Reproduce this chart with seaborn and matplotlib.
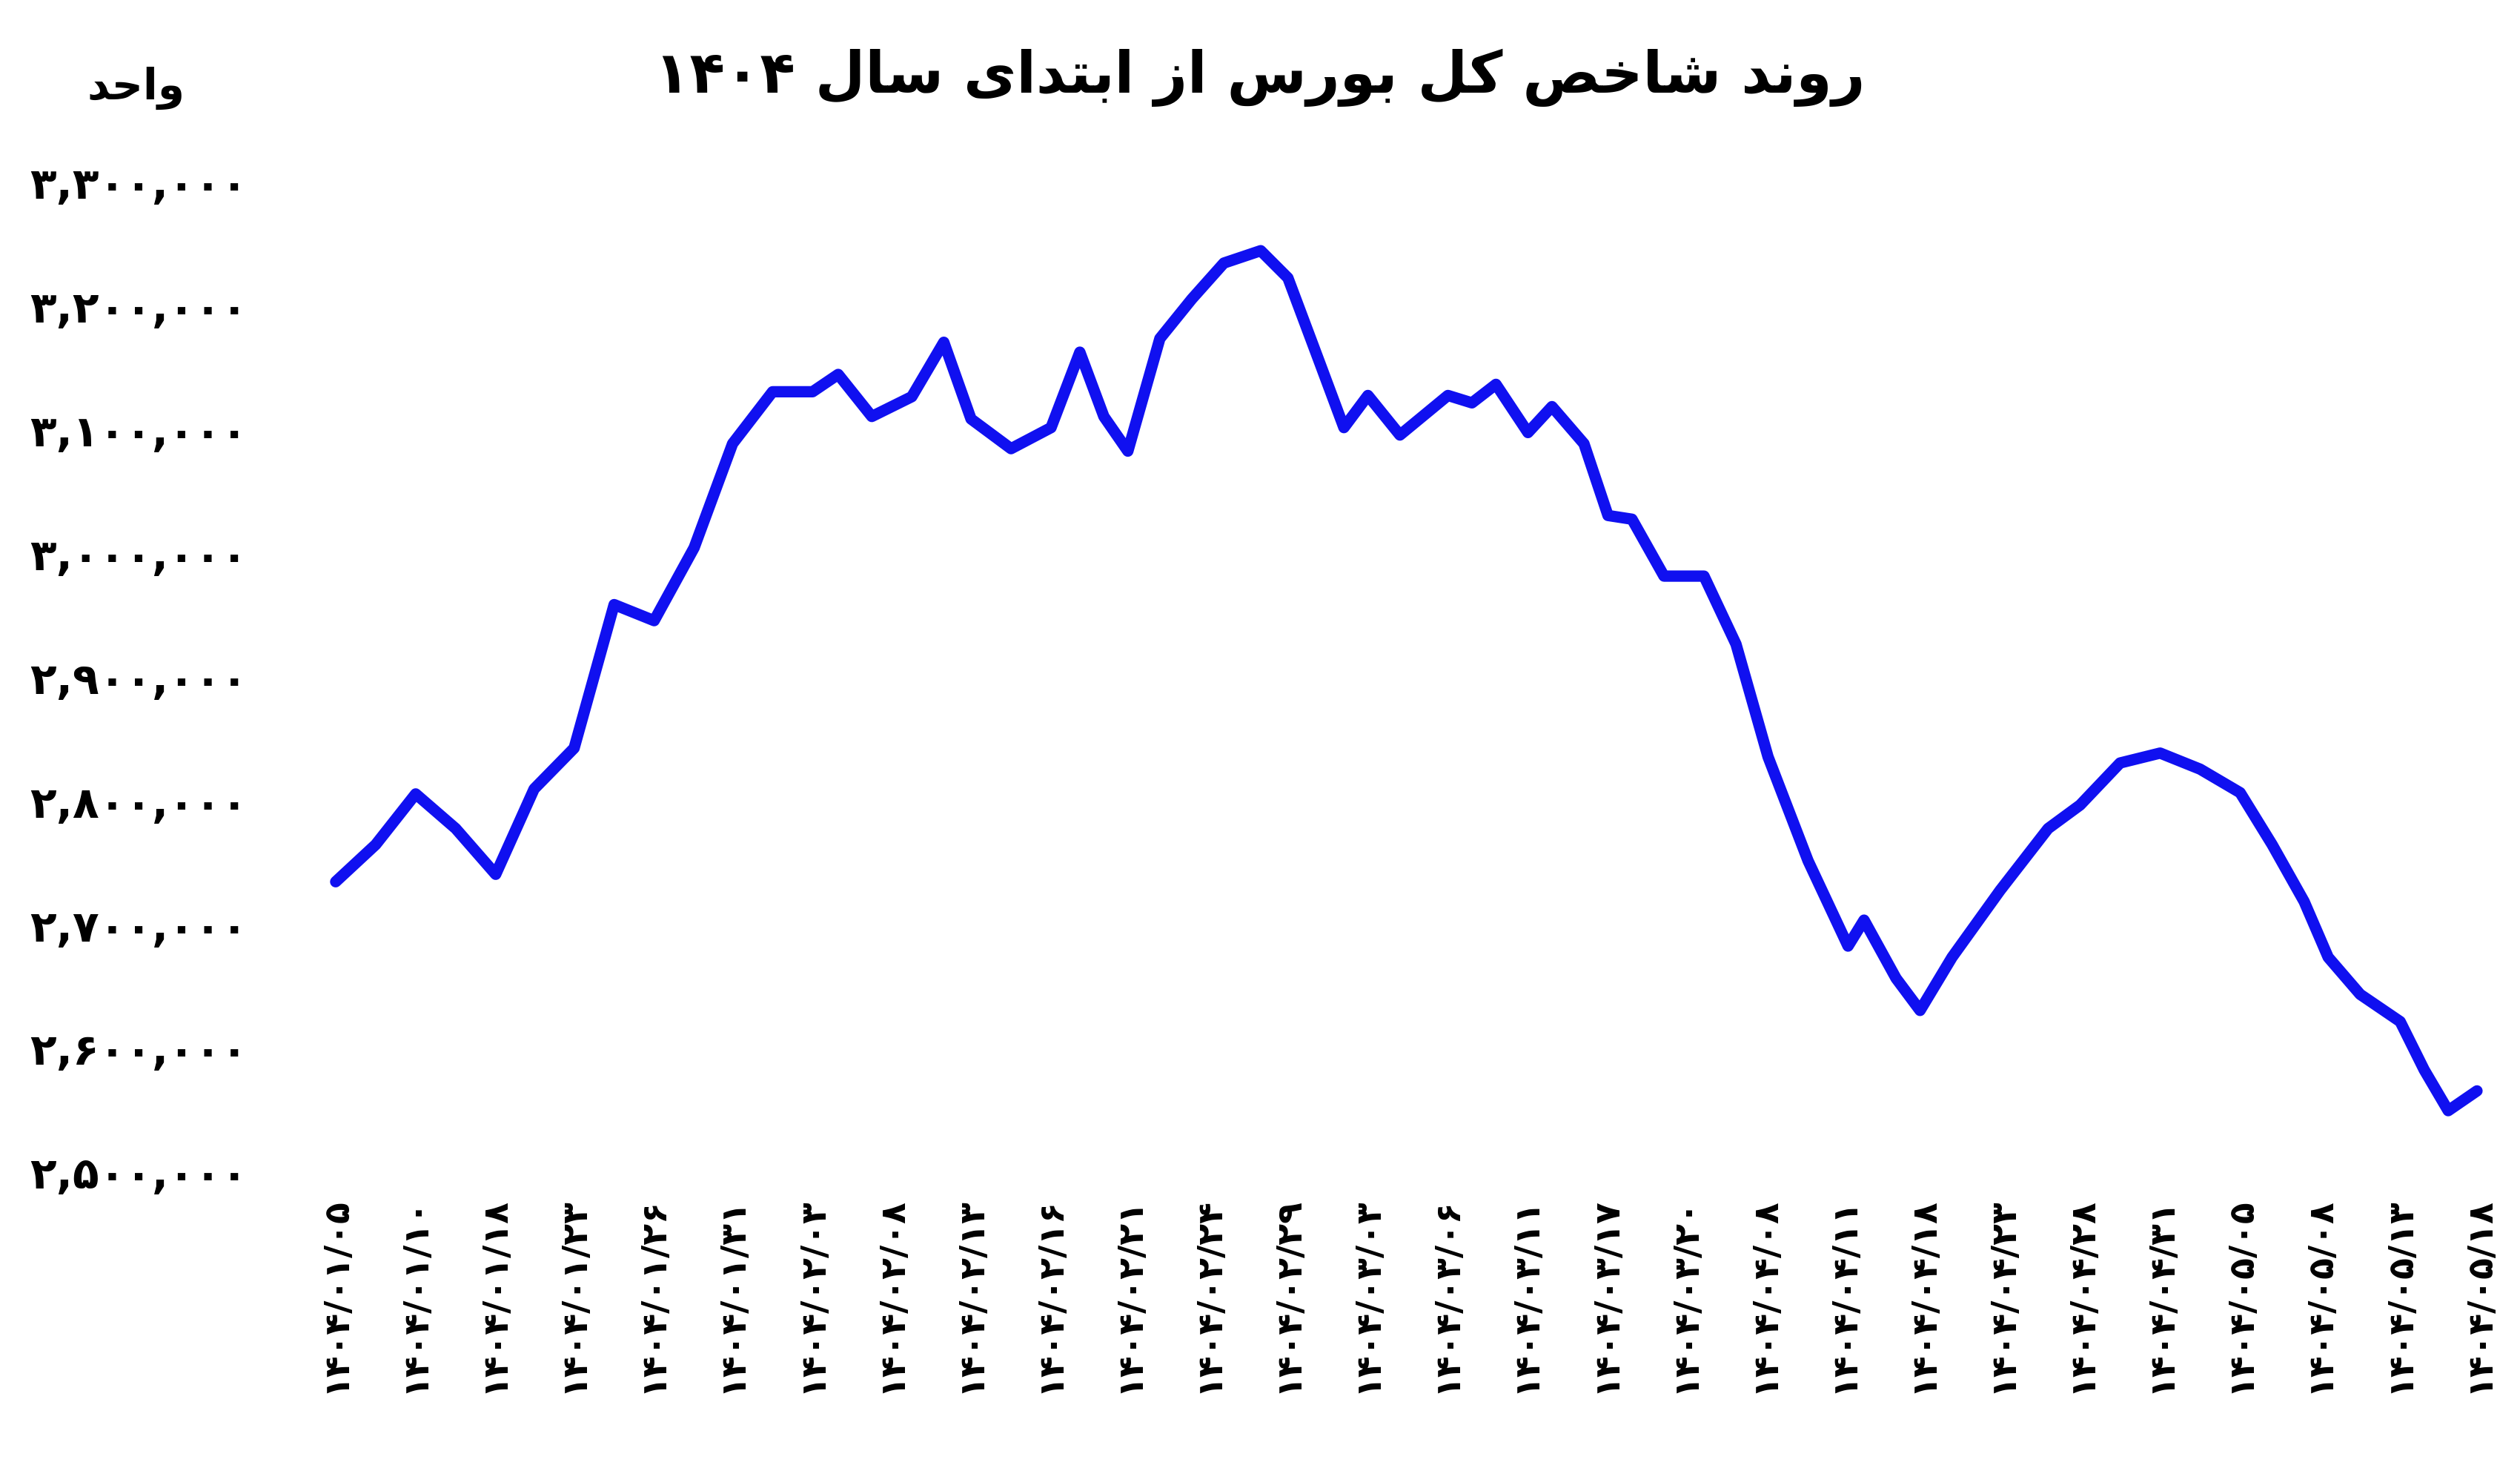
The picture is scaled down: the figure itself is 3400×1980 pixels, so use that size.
import matplotlib
matplotlib.use("Agg")
import matplotlib.pyplot as plt
import seaborn as sns

sns.set_theme(style="white")
plt.rcParams['font.family'] = ['DejaVu Sans', 'Noto Sans']
plt.rcParams['text.color'] = 'black'
plt.rcParams['xtick.color'] = 'black'
plt.rcParams['ytick.color'] = 'black'

# ---- data ----
date_labels = ["01/05","01/10","01/18","01/23","01/26","01/31","02/03","02/08","02/13","02/16",
               "02/21","02/24","02/29","03/03","03/06","03/11","03/17","03/20","04/08","04/11",
               "04/18","04/23","04/28","04/31","05/05","05/08","05/13","05/18"]
px = [210,235,260,285,310,334,359,384,409,434,458,483,508,524,545,570,590,607,632,657,675,690,705,
      725,745,765,788,805,825,840,855,875,905,920,935,955,970,990,1005,1020,1040,1065,1085,1105,1130,
      1155,1165,1185,1200,1220,1250,1280,1300,1325,1350,1375,1400,1420,1440,1455,1475,1500,1515,1530,1548]
values = [2.734,2.764,2.805,2.777,2.740,2.809,2.842,2.958,2.945,3.004,3.088,3.130,3.130,3.144,3.110,
          3.126,3.170,3.108,3.084,3.101,3.162,3.110,3.082,3.173,3.205,3.234,3.244,3.222,3.153,3.101,
          3.127,3.095,3.127,3.121,3.136,3.097,3.118,3.088,3.030,3.027,2.981,2.981,2.926,2.835,2.751,
          2.682,2.703,2.656,2.630,2.673,2.727,2.777,2.796,2.830,2.838,2.825,2.806,2.764,2.718,2.673,
          2.643,2.621,2.582,2.549,2.565]
x_pos = [(p - 210) / 49.6 for p in px]
y_vals = [v * 1e6 for v in values]
y_ticks = [2.5e6, 2.6e6, 2.7e6, 2.8e6, 2.9e6, 3.0e6, 3.1e6, 3.2e6, 3.3e6]

# ---- helpers ----
FA = str.maketrans("0123456789", "۰۱۲۳۴۵۶۷۸۹")
def fa(s): return s.translate(FA)

FORMS = {
 'ا': ('\uFE8D','\uFE8E',None,None), 'ب': ('\uFE8F','\uFE90','\uFE91','\uFE92'),
 'ت': ('\uFE95','\uFE96','\uFE97','\uFE98'), 'ح': ('\uFEA1','\uFEA2','\uFEA3','\uFEA4'),
 'خ': ('\uFEA5','\uFEA6','\uFEA7','\uFEA8'), 'د': ('\uFEA9','\uFEAA',None,None),
 'ر': ('\uFEAD','\uFEAE',None,None), 'ز': ('\uFEAF','\uFEB0',None,None),
 'س': ('\uFEB1','\uFEB2','\uFEB3','\uFEB4'), 'ش': ('\uFEB5','\uFEB6','\uFEB7','\uFEB8'),
 'ص': ('\uFEB9','\uFEBA','\uFEBB','\uFEBC'), 'ل': ('\uFEDD','\uFEDE','\uFEDF','\uFEE0'),
 'ن': ('\uFEE5','\uFEE6','\uFEE7','\uFEE8'), 'و': ('\uFEED','\uFEEE',None,None),
 'ی': ('\uFBFC','\uFBFD','\uFBFE','\uFBFF'), 'ک': ('\uFB8E','\uFB8F','\uFB90','\uFB91'),
 'لا': ('\uFEFB','\uFEFC',None,None),
}
def shape_word(w):
    chars = []
    i = 0
    while i < len(w):
        if w[i] == 'ل' and i + 1 < len(w) and w[i+1] == 'ا':
            chars.append('لا'); i += 2
        else:
            chars.append(w[i]); i += 1
    out = []
    for j, c in enumerate(chars):
        if c not in FORMS:
            out.append(c); continue
        f = FORMS[c]
        prev_joins = j > 0 and chars[j-1] in FORMS and FORMS[chars[j-1]][2] is not None
        next_exists = j + 1 < len(chars) and chars[j+1] in FORMS
        can_next = f[2] is not None and next_exists
        if prev_joins and can_next: out.append(f[3])
        elif prev_joins: out.append(f[1])
        elif can_next: out.append(f[2])
        else: out.append(f[0])
    return ''.join(out)[::-1]
def rtl(text):
    words = text.split(' ')
    res = []
    for w in words:
        if all(ch in "۰۱۲۳۴۵۶۷۸۹0123456789" for ch in w):
            res.append(w)
        else:
            res.append(shape_word(w))
    return ' '.join(res[::-1])

# ---- plot ----
fig = plt.figure(figsize=(17, 9.905), dpi=200)
ax = fig.add_axes([0.108, 0.202, 0.882, 0.674])
sns.lineplot(x=x_pos, y=y_vals, ax=ax, color="#1010f0", linewidth=5.5, sort=False,
             solid_joinstyle='round', solid_capstyle='round')
ax.set_ylim(2.5e6, 3.3e6)
ax.set_xlim(-0.8, 27.2)
for s in ax.spines.values():
    s.set_visible(False)
ax.grid(False)
ax.set_yticks(y_ticks)
ax.set_yticklabels([fa(f"{int(t):,}") for t in y_ticks], fontsize=21, fontweight='bold')
ax.set_xticks(range(len(date_labels)))
ax.set_xticklabels([fa("1404/" + d) for d in date_labels], rotation=90, fontsize=17, fontweight='bold')
ax.tick_params(axis='both', length=0, pad=12)
ax.set_xlabel(""); ax.set_ylabel("")

fig.text(0.5, 0.947, rtl("روند شاخص کل بورس از ابتدای سال " + fa("1404")),
         ha='center', va='center', fontsize=28, fontweight='bold', color='black')
fig.text(0.054, 0.94, rtl("واحد"), ha='center', va='center', fontsize=21, fontweight='bold', color='black')

fig.savefig("out.png", dpi=200, facecolor='white')
